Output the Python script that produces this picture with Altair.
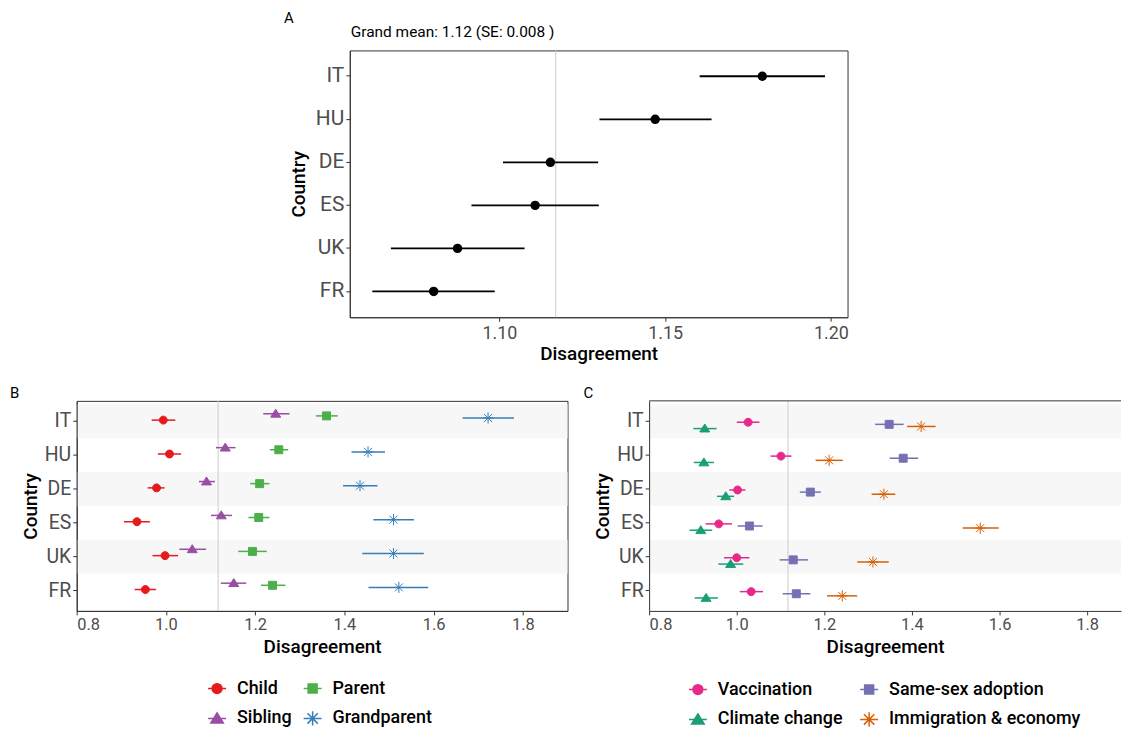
import altair as alt
import pandas as pd

FONT = "Roboto"

countries = ["IT", "HU", "DE", "ES", "UK", "FR"]
shaded_countries = ["IT", "DE", "UK"]
grand_mean = 1.117
title_a = "Grand mean: 1.12 (SE: 0.008 )"

# Panel A: overall disagreement by country
a_mean = [1.1793, 1.1470, 1.1154, 1.1108, 1.0874, 1.0802]
a_lo = [1.1604, 1.1302, 1.1011, 1.0916, 1.0673, 1.0617]
a_hi = [1.1982, 1.1640, 1.1298, 1.1300, 1.1076, 1.0986]
a_ticks = [1.10, 1.15, 1.20]

# Panel B: relationship
b_series = ["Child", "Sibling", "Parent", "Grandparent"]
b_colors = ["#e41a1c", "#984ea3", "#4daf4a", "#377eb8"]
b_dodge = ["Sibling", "Parent", "Grandparent", "Child"]
child_mean = [0.994, 1.008, 0.979, 0.935, 0.998, 0.954]
child_lo = [0.968, 0.982, 0.959, 0.906, 0.970, 0.930]
child_hi = [1.021, 1.034, 0.997, 0.964, 1.027, 0.978]
sibling_mean = [1.246, 1.133, 1.091, 1.124, 1.059, 1.152]
sibling_lo = [1.218, 1.112, 1.074, 1.101, 1.030, 1.123]
sibling_hi = [1.277, 1.156, 1.110, 1.148, 1.090, 1.180]
parent_mean = [1.360, 1.253, 1.210, 1.208, 1.194, 1.239]
parent_lo = [1.336, 1.233, 1.189, 1.185, 1.162, 1.213]
parent_hi = [1.385, 1.274, 1.232, 1.232, 1.226, 1.268]
grandp_mean = [1.722, 1.453, 1.435, 1.510, 1.510, 1.522]
grandp_lo = [1.665, 1.416, 1.397, 1.465, 1.440, 1.454]
grandp_hi = [1.780, 1.491, 1.474, 1.556, 1.578, 1.588]

# Panel C: topic
c_series = ["Vaccination", "Climate change", "Same-sex adoption", "Immigration & economy"]
c_colors = ["#e7298a", "#1b9e77", "#7570b3", "#d95f02"]
c_dodge = ["Vaccination", "Same-sex adoption", "Immigration & economy", "Climate change"]
vacc_mean = [1.026, 1.101, 1.002, 0.959, 1.000, 1.033]
vacc_lo = [1.000, 1.077, 0.983, 0.929, 0.971, 1.007]
vacc_hi = [1.052, 1.125, 1.020, 0.989, 1.029, 1.060]
climate_mean = [0.927, 0.925, 0.975, 0.918, 0.986, 0.930]
climate_lo = [0.901, 0.902, 0.955, 0.892, 0.958, 0.904]
climate_hi = [0.954, 0.948, 0.994, 0.944, 1.015, 0.957]
samesex_mean = [1.348, 1.380, 1.168, 1.029, 1.129, 1.136]
samesex_lo = [1.316, 1.349, 1.144, 1.002, 1.098, 1.105]
samesex_hi = [1.381, 1.414, 1.192, 1.059, 1.163, 1.168]
immig_mean = [1.421, 1.211, 1.336, 1.556, 1.311, 1.241]
immig_lo = [1.389, 1.180, 1.308, 1.516, 1.275, 1.206]
immig_hi = [1.454, 1.242, 1.362, 1.598, 1.347, 1.275]

bc_ticks = [0.8, 1.0, 1.2, 1.4, 1.6, 1.8]

# marker shapes, in series order (circle, triangle, square, asterisk)
plot_shapes = [
    "M-1,0A1,1,0,1,0,1,0A1,1,0,1,0,-1,0Z",
    "M0,-1.15L1.25,0.85L-1.25,0.85Z",
    "M-1,-1H1V1H-1Z",
    "M-1.4,0H1.4M0,-1.4V1.4M-1,-1L1,1M-1,1L1,-1",
]
legend_shapes = [
    "M-1,0H1M-0.55,0A0.55,0.55,0,1,0,0.55,0A0.55,0.55,0,1,0,-0.55,0Z",
    "M-1,0H1M0,-0.62L0.7,0.5L-0.7,0.5Z",
    "M-1,0H1M-0.5,-0.5H0.5V0.5H-0.5Z",
    "M-1,0H1M0,-0.8V0.8M-0.58,-0.58L0.58,0.58M-0.58,0.58L0.58,-0.58",
]


def build_df(series, means, los, his):
    rows = []
    for s, m, l, h in zip(series, means, los, his):
        for c, mv, lv, hv in zip(countries, m, l, h):
            rows.append({"Country": c, "series": s, "mean": mv, "lo": lv, "hi": hv})
    return pd.DataFrame(rows)


def letter_layer(letter, x, y):
    return alt.Chart(pd.DataFrame({"t": [letter]})).mark_text(
        align="left", baseline="top", fontSize=15, font=FONT, color="black"
    ).encode(x=alt.value(x), y=alt.value(y), text="t:N")


def panel(letter, series, colors, dodge, means, los, his, width, xmax, lx, ly, colpad,
          transparent=False):
    df = build_df(series, means, los, his)
    height = 211
    yscale = alt.Scale(domain=countries, paddingInner=0, paddingOuter=0.1)
    yaxis = alt.Axis(title="Country", labelFontSize=19.5, titleFontSize=19, titlePadding=4,
                     tickSize=4, labelPadding=2)
    y = alt.Y("Country:N", scale=yscale, axis=yaxis)
    yoff = alt.YOffset("series:N", scale=alt.Scale(domain=dodge, paddingInner=0, paddingOuter=0,
                                                   range=[8.5, 25.5]))
    xscale = alt.Scale(domain=[0.8, xmax], nice=False, zero=False)
    xaxis = alt.Axis(title="Disagreement", values=bc_ticks, format=".1f", labelFontSize=16.5,
                     titleFontSize=19, titlePadding=4, labelPadding=2, tickSize=4)
    cscale = alt.Scale(domain=series, range=colors)
    sscale = alt.Scale(domain=series, range=plot_shapes)
    lscale = alt.Scale(domain=series, range=legend_shapes)

    legend = alt.Legend(
        title=None, orient="none", legendX=lx, legendY=ly, columns=2, columnPadding=colpad,
        rowPadding=10, labelFont=FONT, labelFontSize=18, labelFontWeight=500, labelColor="black",
        labelOffset=10, labelLimit=400, symbolSize=324, symbolStrokeWidth=1.5, symbolOpacity=1,
        padding=0,
    )

    bands = alt.Chart(pd.DataFrame({"Country": shaded_countries})).mark_rect(color="#f7f7f7").encode(
        y=y, x=alt.value(0), x2=alt.value(width))
    vline = alt.Chart(pd.DataFrame({"gm": [grand_mean]})).mark_rule(color="#cccccc", strokeWidth=1).encode(
        x=alt.X("gm:Q", scale=xscale, axis=xaxis))
    bars = alt.Chart(df).mark_rule(strokeWidth=1.5).encode(
        y=y, yOffset=yoff,
        x=alt.X("lo:Q", scale=xscale, axis=xaxis), x2="hi:Q",
        color=alt.Color("series:N", scale=cscale, legend=None))
    pts = alt.Chart(df).mark_point(filled=True, opacity=1, size=64, strokeWidth=1).encode(
        y=y, yOffset=yoff,
        x=alt.X("mean:Q", scale=xscale, axis=xaxis),
        color=alt.Color("series:N", scale=cscale, legend=None),
        shape=alt.Shape("series:N", scale=sscale, legend=None),
        stroke=alt.Stroke("series:N", scale=cscale, legend=None))
    # legend carrier: draws nothing (all rows filtered out), provides the key
    key = alt.Chart(df).transform_filter("datum.mean < 0").mark_point(
        filled=True, opacity=1, strokeWidth=1.5).encode(
        y=y, x=alt.X("mean:Q", scale=xscale, axis=xaxis),
        color=alt.Color("series:N", scale=cscale, legend=legend),
        shape=alt.Shape("series:N", scale=lscale, legend=legend),
        stroke=alt.Stroke("series:N", scale=cscale, legend=legend))
    layers = [bands, vline, bars, pts, key, letter_layer(letter, -66 if letter == "C" else -67, -15)]
    if transparent:
        top = alt.Chart(pd.DataFrame({"t": [0]})).mark_rule(color="#333333", strokeWidth=1).encode(
            x=alt.value(0), x2=alt.value(width), y=alt.value(0))
        layers.append(top)
    ch = alt.layer(*layers).resolve_scale(
        color="independent", shape="independent", stroke="independent"
    ).properties(width=width, height=height)
    if transparent:
        ch = ch.properties(view=alt.ViewBackground(stroke="transparent"))
    return ch


# ---- Panel A ----
dfa = pd.DataFrame({"Country": countries, "mean": a_mean, "lo": a_lo, "hi": a_hi})
ya = alt.Y("Country:N", scale=alt.Scale(domain=countries, paddingInner=0, paddingOuter=0.1),
           axis=alt.Axis(title="Country", labelFontSize=21, titleFontSize=19, titlePadding=7,
                         tickSize=4, labelPadding=2))
xa_scale = alt.Scale(domain=[1.0549, 1.2050], nice=False, zero=False)
xa_axis = alt.Axis(title="Disagreement", values=a_ticks, format=".2f", labelFontSize=18,
                   titleFontSize=19, titlePadding=2, labelPadding=3, tickSize=4)
a_vline = alt.Chart(pd.DataFrame({"gm": [grand_mean]})).mark_rule(color="#cccccc", strokeWidth=1).encode(
    x=alt.X("gm:Q", scale=xa_scale, axis=xa_axis))
a_bars = alt.Chart(dfa).mark_rule(color="black", strokeWidth=1.8).encode(
    y=ya, x=alt.X("lo:Q", scale=xa_scale, axis=xa_axis), x2="hi:Q")
a_pts = alt.Chart(dfa).mark_point(filled=True, opacity=1, size=90, color="black", shape="circle").encode(
    y=ya, x=alt.X("mean:Q", scale=xa_scale, axis=xa_axis))
a_title = alt.Chart(pd.DataFrame({"t": [title_a]})).mark_text(
    align="left", baseline="middle", fontSize=15.5, font=FONT, color="black").encode(
    x=alt.value(1), y=alt.value(-18), text="t:N")
panel_a = alt.layer(a_vline, a_bars, a_pts, a_title, letter_layer("A", -66, -40)).properties(
    width=500, height=268)

panel_b = panel("B", b_series, b_colors, b_dodge,
                [child_mean, sibling_mean, parent_mean, grandp_mean],
                [child_lo, sibling_lo, parent_lo, grandp_lo],
                [child_hi, sibling_hi, parent_hi, grandp_hi],
                width=493, xmax=1.9, lx=131, ly=279, colpad=8)
panel_c = panel("C", c_series, c_colors, c_dodge,
                [vacc_mean, climate_mean, samesex_mean, immig_mean],
                [vacc_lo, climate_lo, samesex_lo, immig_lo],
                [vacc_hi, climate_hi, samesex_hi, immig_hi],
                width=474, xmax=0.8 + 474 / 440, lx=39, ly=280, colpad=14, transparent=True)

bottom = alt.hconcat(panel_b, panel_c, spacing=14).resolve_scale(
    x="independent", y="independent", color="independent", shape="independent",
    stroke="independent")

chart = alt.vconcat(panel_a, bottom, spacing=21, center=True).resolve_scale(
    x="independent", y="independent", color="independent").properties(
    padding={"left": 1, "top": 0, "right": 0, "bottom": 0}
).configure_axis(
    labelFont=FONT, titleFont=FONT, labelColor="#4d4d4d", titleColor="black",
    tickColor="#333333", domainColor="#333333", grid=False, titleFontWeight=500
).configure_view(stroke="#333333").configure_legend(labelFont=FONT)

chart.save("out.html", embed_options={"renderer": "svg", "actions": False})
